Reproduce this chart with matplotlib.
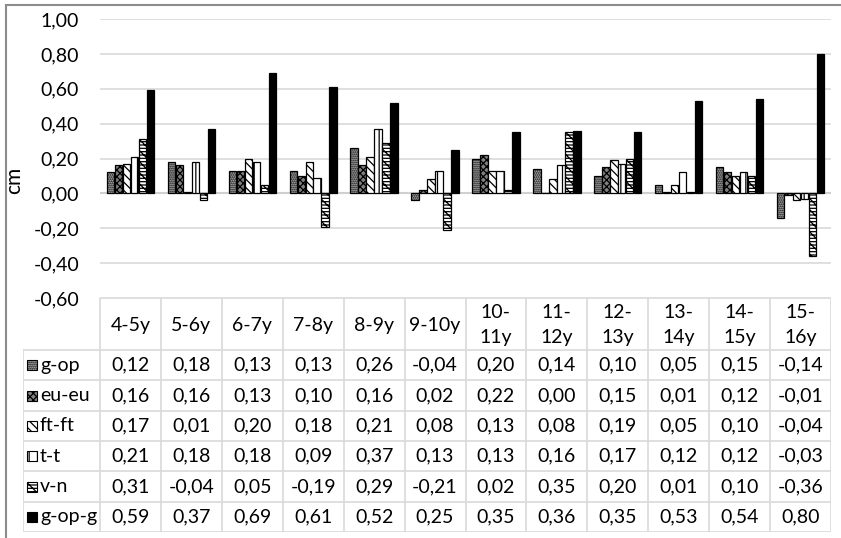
import numpy as np
import matplotlib.pyplot as plt
from matplotlib.patches import Rectangle
from matplotlib.lines import Line2D

plt.rcParams['font.family'] = ['Lato', 'DejaVu Sans']
plt.rcParams['hatch.linewidth'] = 0.9

# ---- data ----
categories = ["4-5y", "5-6y", "6-7y", "7-8y", "8-9y", "9-10y",
              "10-\n11y", "11-\n12y", "12-\n13y", "13-\n14y", "14-\n15y", "15-\n16y"]
series_names = ["g-op", "eu-eu", "ft-ft", "t-t", "v-n", "g-op-g"]

g_op = [0.12, 0.18, 0.13, 0.13, 0.26, -0.04, 0.20, 0.14, 0.10, 0.05, 0.15, -0.14]
eu_eu = [0.16, 0.16, 0.13, 0.10, 0.16, 0.02, 0.22, 0.00, 0.15, 0.01, 0.12, -0.01]
ft_ft = [0.17, 0.01, 0.20, 0.18, 0.21, 0.08, 0.13, 0.08, 0.19, 0.05, 0.10, -0.04]
t_t = [0.21, 0.18, 0.18, 0.09, 0.37, 0.13, 0.13, 0.16, 0.17, 0.12, 0.12, -0.03]
v_n = [0.31, -0.04, 0.05, -0.19, 0.29, -0.21, 0.02, 0.35, 0.20, 0.01, 0.10, -0.36]
g_op_g = [0.59, 0.37, 0.69, 0.61, 0.52, 0.25, 0.35, 0.36, 0.35, 0.53, 0.54, 0.80]
series_values = [g_op, eu_eu, ft_ft, t_t, v_n, g_op_g]

y_ticks = [-0.6, -0.4, -0.2, 0.0, 0.2, 0.4, 0.6, 0.8, 1.0]

# bar styles: (facecolor, hatch)
styles = [("#b0b0b0", "........"), ("#808080", "xxxxx"), ("white", "\\\\\\\\"),
          ("white", "||"), ("white", "\\\\\\-----"), ("black", None)]

W, H = 841, 538
FS = 14


def fx(px):
    return px / W


def fy(py):
    return 1 - py / H


def comma(v):
    return f"{v:.2f}".replace(".", ",")


fig = plt.figure(figsize=(W / 100, H / 100), dpi=100)

# chart frame (left and top edges)
fig.add_artist(Line2D([fx(6), fx(6)], [fy(5), 0], color="#8c8c8c", lw=1.5))
fig.add_artist(Line2D([fx(6), 1], [fy(5), fy(5)], color="#8c8c8c", lw=1.5))

# ---- bar plot ----
ax = fig.add_axes([fx(100), fy(298), fx(831) - fx(100), fy(19) - fy(298)])
x = np.arange(len(categories))
step = 0.131
width = 0.122
for i, (vals, (fc, hatch)) in enumerate(zip(series_values, styles)):
    ax.bar(x + (i - 2.5) * step, vals, width=width, color=fc, hatch=hatch,
           edgecolor="black", linewidth=0.9, zorder=3)

ax.set_xlim(-0.5, len(categories) - 0.5)
ax.set_ylim(-0.6, 1.0)
ax.set_yticks(y_ticks)
ax.set_yticklabels([comma(t) for t in y_ticks], fontsize=FS)
ax.tick_params(axis="y", length=0, pad=15)
ax.set_xticks([])
ax.grid(axis="y", color="#d9d9d9", linewidth=1.2, zorder=0)
for s in ax.spines.values():
    s.set_visible(False)
ax.axhline(0, color="#d0d0d0", linewidth=1.5, zorder=2)
fig.text(fx(14), fy(180), "cm", rotation=90, fontsize=FS + 1, ha="center", va="center")

# ---- data table ----
tab = fig.add_axes([fx(23), fy(532), fx(831) - fx(23), fy(298) - fy(532)])
tw, th = 808, 234
tab.set_xlim(0, tw)
tab.set_ylim(th, 0)
tab.axis("off")

leg_w = 77
head_h = 52
col_w = (tw - leg_w) / len(categories)
row_h = (th - head_h) / len(series_names)
grid_kw = dict(color="#d9d9d9", linewidth=1.2)

tab.plot([leg_w, tw], [0, 0], **grid_kw)
for r in range(len(series_names) + 1):
    y = head_h + r * row_h
    tab.plot([0, tw], [y, y], **grid_kw)
tab.plot([0, 0], [head_h, th], **grid_kw)
for c in range(len(categories) + 1):
    xc = leg_w + c * col_w
    tab.plot([xc, xc], [0, th], **grid_kw)

for c, cat in enumerate(categories):
    tab.text(leg_w + (c + 0.5) * col_w, head_h / 2 + 1, cat, fontsize=FS,
             ha="center", va="center", linespacing=1.5)

for r, (name, vals, (fc, hatch)) in enumerate(zip(series_names, series_values, styles)):
    yc = head_h + (r + 0.5) * row_h
    tab.add_patch(Rectangle((4, yc - 5), 10, 10, facecolor=fc, hatch=hatch,
                            edgecolor="black", linewidth=0.8))
    tab.text(17, yc, name, fontsize=FS, ha="left", va="center")
    for c, v in enumerate(vals):
        tab.text(leg_w + (c + 0.5) * col_w, yc, comma(v), fontsize=FS,
                 ha="center", va="center")

fig.savefig("out.png", dpi=100)
